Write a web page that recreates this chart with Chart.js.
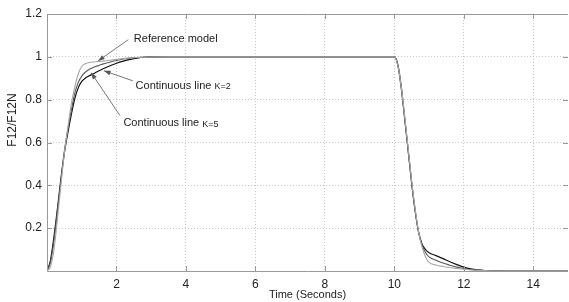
<!DOCTYPE html>
<html>
<head>
<meta charset="utf-8">
<script src="https://cdn.jsdelivr.net/npm/chart.js@4"></script>
<style>
  html, body { margin: 0; padding: 0; background: #fff; }
  #wrap { width: 569px; height: 302px; }
</style>
</head>
<body>
<div id="wrap"><canvas id="myChart" width="569" height="302"></canvas></div>
<script>
// time axis (seconds), shared by all three responses
const timeValues = [0, 0.1, 0.2, 0.3, 0.4, 0.5, 0.6, 0.7, 0.8, 0.9, 1.0, 1.1, 1.2, 1.3, 1.4, 1.5, 1.6, 1.8, 2.0, 2.2, 2.4, 2.6, 2.8, 3.0, 3.5, 4, 6, 8, 10.0,
  10.1, 10.2, 10.3, 10.4, 10.5, 10.6, 10.7, 10.8, 10.9, 11.0, 11.2, 11.4, 11.6, 11.8, 12.0, 12.2, 12.4, 12.6, 13, 14, 15];

const referenceModel = [0, 0.02, 0.1, 0.24, 0.4, 0.55, 0.67, 0.78, 0.86, 0.92, 0.955, 0.968, 0.973, 0.975, 0.977, 0.978, 0.98, 0.984, 0.988, 0.992, 0.995, 0.997, 0.998, 0.999, 1, 1, 1, 1, 1,
  0.96, 0.86, 0.72, 0.57, 0.42, 0.29, 0.18, 0.11, 0.065, 0.04, 0.028, 0.021, 0.016, 0.012, 0.008, 0.005, 0.003, 0.002, 0, 0, 0];

const lineK5 = [0, 0.04, 0.14, 0.28, 0.42, 0.56, 0.66, 0.75, 0.83, 0.88, 0.91, 0.928, 0.94, 0.948, 0.955, 0.96, 0.966, 0.975, 0.983, 0.99, 0.994, 0.997, 0.999, 1, 1, 1, 1, 1, 1,
  0.96, 0.85, 0.71, 0.56, 0.41, 0.28, 0.18, 0.12, 0.085, 0.066, 0.05, 0.037, 0.027, 0.018, 0.012, 0.007, 0.004, 0.002, 0, 0, 0];

const lineK2 = [0, 0.05, 0.16, 0.29, 0.43, 0.55, 0.645, 0.73, 0.805, 0.855, 0.885, 0.9, 0.91, 0.918, 0.927, 0.935, 0.943, 0.957, 0.97, 0.98, 0.988, 0.994, 0.998, 1, 1, 1, 1, 1, 1,
  0.965, 0.86, 0.71, 0.56, 0.41, 0.28, 0.18, 0.125, 0.1, 0.085, 0.072, 0.058, 0.043, 0.03, 0.018, 0.01, 0.005, 0.002, 0, 0, 0];

const xTicks = [2, 4, 6, 8, 10, 12, 14];
const yTicks = [0.2, 0.4, 0.6, 0.8, 1, 1.2];

// annotations: label, text position and arrow (tail -> tip), in data units
const noteLabels = ["Reference model", "Continuous line", "Continuous line"];
const noteSuffix = ["", "K=2", "K=5"];
const noteTextAt = [[2.5, 1.082], [2.55, 0.865], [2.2, 0.69]];
const noteTail = [[2.34, 1.08], [2.47, 0.888], [2.1, 0.726]];
const noteTip = [[1.47, 0.981], [1.64, 0.935], [1.27, 0.926]];

function toPoints(ys) {
  return timeValues.map((t, i) => ({ x: t, y: ys[i] }));
}

const font = "Liberation Sans, Arial, sans-serif";

const frame = {
  id: "frame",
  afterDraw(chart) {
    const ctx = chart.ctx;
    const a = chart.chartArea;
    const xs = chart.scales.x, ys = chart.scales.y;
    ctx.save();
    ctx.strokeStyle = "#999";
    ctx.lineWidth = 1;
    ctx.beginPath();
    ctx.moveTo(a.left + 0.5, a.top + 0.5);
    ctx.lineTo(a.right, a.top + 0.5);
    ctx.moveTo(a.left + 0.5, a.top);
    ctx.lineTo(a.left + 0.5, a.bottom + 0.5);
    ctx.lineTo(a.right, a.bottom + 0.5);
    // inside tick marks
    xTicks.forEach(v => {
      const px = Math.round(xs.getPixelForValue(v)) + 0.5;
      ctx.moveTo(px, a.bottom); ctx.lineTo(px, a.bottom - 5);
      ctx.moveTo(px, a.top); ctx.lineTo(px, a.top + 5);
    });
    yTicks.forEach(v => {
      const py = Math.round(ys.getPixelForValue(v)) + 0.5;
      ctx.moveTo(a.left, py); ctx.lineTo(a.left + 5, py);
      ctx.moveTo(a.right, py); ctx.lineTo(a.right - 5, py);
    });
    ctx.stroke();

    // y axis title, sits a bit above the middle like the original
    ctx.fillStyle = "#222";
    ctx.font = "12px " + font;
    ctx.textAlign = "center";
    ctx.textBaseline = "middle";
    ctx.translate(13, 120);
    ctx.rotate(-Math.PI / 2);
    ctx.fillText("F12/F12N", 0, 0);
    ctx.setTransform(1, 0, 0, 1, 0, 0);

    // annotation arrows and texts
    ctx.strokeStyle = "#777";
    ctx.fillStyle = "#555";
    for (let i = 0; i < noteLabels.length; i++) {
      const x1 = xs.getPixelForValue(noteTail[i][0]), y1 = ys.getPixelForValue(noteTail[i][1]);
      const x2 = xs.getPixelForValue(noteTip[i][0]), y2 = ys.getPixelForValue(noteTip[i][1]);
      ctx.beginPath();
      ctx.moveTo(x1, y1); ctx.lineTo(x2, y2);
      ctx.stroke();
      const ang = Math.atan2(y2 - y1, x2 - x1);
      ctx.beginPath();
      ctx.moveTo(x2, y2);
      ctx.lineTo(x2 - 7 * Math.cos(ang - 0.35), y2 - 7 * Math.sin(ang - 0.35));
      ctx.lineTo(x2 - 7 * Math.cos(ang + 0.35), y2 - 7 * Math.sin(ang + 0.35));
      ctx.closePath();
      ctx.fill();

      const tx = xs.getPixelForValue(noteTextAt[i][0]), ty = ys.getPixelForValue(noteTextAt[i][1]);
      ctx.fillStyle = "#222";
      ctx.textBaseline = "middle";
      ctx.textAlign = "left";
      ctx.font = "11px " + font;
      ctx.fillText(noteLabels[i], tx, ty);
      if (noteSuffix[i]) {
        const w = ctx.measureText(noteLabels[i] + " ").width;
        ctx.font = "9px " + font;
        ctx.fillText(noteSuffix[i], tx + w, ty + 1);
      }
      ctx.fillStyle = "#555";
    }
    ctx.restore();
  }
};

const config = {
  type: "line",
  data: {
    datasets: [
      { label: "Reference model", data: toPoints(referenceModel), borderColor: "#a8a8a8", borderWidth: 1.1 },
      { label: "Continuous line K=5", data: toPoints(lineK5), borderColor: "#5a5a5a", borderWidth: 1.1 },
      { label: "Continuous line K=2", data: toPoints(lineK2), borderColor: "#111", borderWidth: 1.2 }
    ]
  },
  options: {
    responsive: false,
    animation: false,
    layout: { padding: { top: 14, right: 1, left: 0, bottom: 0 } },
    elements: { point: { radius: 0 }, line: { cubicInterpolationMode: "monotone" } },
    plugins: { legend: { display: false }, tooltip: { enabled: false } },
    scales: {
      x: {
        type: "linear", min: 0, max: 15,
        afterBuildTicks: s => { s.ticks = xTicks.map(v => ({ value: v })); },
        afterFit: s => { s.height = 31; },
        grid: { color: "#c8c8c8", drawTicks: false },
        border: { display: false, dash: [1, 2] },
        ticks: { color: "#222", font: { family: font, size: 12 }, padding: 6, maxRotation: 0 },
        title: { display: true, text: "Time (Seconds)", color: "#222", font: { family: font, size: 11 }, padding: { top: 0, bottom: 0 } }
      },
      y: {
        min: 0, max: 1.2,
        afterBuildTicks: s => { s.ticks = yTicks.map(v => ({ value: v })); },
        afterFit: s => { s.width = 47; },
        grid: { color: "#c8c8c8", drawTicks: false },
        border: { display: false, dash: [1, 2] },
        ticks: { color: "#222", font: { family: font, size: 12 }, padding: 5, callback: v => String(Math.round(v * 10) / 10) }
      }
    }
  },
  plugins: [frame]
};

new Chart(document.getElementById("myChart"), config);
</script>
</body>
</html>
